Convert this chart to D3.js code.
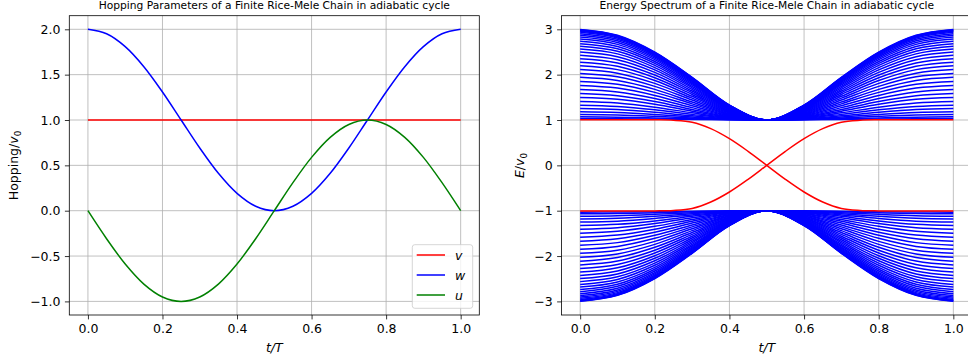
<!DOCTYPE html>
<html><head><meta charset="utf-8">
<script src="https://cdn.jsdelivr.net/npm/d3@7"></script>
<style>
body{margin:0;background:#fff}
svg{display:block}
text{font-family:"DejaVu Sans",sans-serif;fill:#000}
</style>
</head><body>
<svg id="c" width="968" height="362"></svg>
<script>
// ---------------- DATA ----------------
const tFine = [0,0.05,0.1,0.15,0.2,0.25,0.3,0.35,0.4,0.45,0.5,0.55,0.6,0.65,0.7,0.75,0.8,0.85,0.9,0.95,1];
const vValues = [1,1,1,1,1,1,1,1,1,1,1,1,1,1,1,1,1,1,1,1,1];
const wValues = [2,1.951,1.809,1.588,1.309,1,0.691,0.412,0.191,0.049,0,0.049,0.191,0.412,0.691,1,1.309,1.588,1.809,1.951,2];
const uValues = [0,-0.309,-0.588,-0.809,-0.951,-1,-0.951,-0.809,-0.588,-0.309,0,0.309,0.588,0.809,0.951,1,0.951,0.809,0.588,0.309,0];
const hopNames = ["v","w","u"];
const hopColors = ["#ff0000","#0000ff","#008000"];

const tCoarse = [0,0.1,0.2,0.3,0.4,0.5,0.6,0.7,0.8,0.9,1];
const upperBands = [
[2.997,2.867,2.495,1.939,1.328,1,1.328,1.939,2.495,2.867,2.997],
[2.989,2.860,2.489,1.934,1.326,1,1.326,1.934,2.489,2.860,2.989],
[2.976,2.847,2.478,1.927,1.323,1,1.323,1.927,2.478,2.847,2.976],
[2.957,2.829,2.464,1.917,1.319,1,1.319,1.917,2.464,2.829,2.957],
[2.933,2.807,2.445,1.904,1.314,1,1.314,1.904,2.445,2.807,2.933],
[2.904,2.779,2.422,1.889,1.308,1,1.308,1.889,2.422,2.779,2.904],
[2.870,2.747,2.395,1.871,1.300,1,1.300,1.871,2.395,2.747,2.870],
[2.831,2.710,2.364,1.850,1.292,1,1.292,1.850,2.364,2.710,2.831],
[2.786,2.668,2.330,1.827,1.283,1,1.283,1.827,2.330,2.668,2.786],
[2.738,2.622,2.291,1.801,1.273,1,1.273,1.801,2.291,2.622,2.738],
[2.684,2.571,2.250,1.773,1.262,1,1.262,1.773,2.250,2.571,2.684],
[2.626,2.516,2.204,1.743,1.250,1,1.250,1.743,2.204,2.516,2.626],
[2.564,2.458,2.156,1.710,1.238,1,1.238,1.710,2.156,2.458,2.564],
[2.497,2.395,2.104,1.676,1.225,1,1.225,1.676,2.104,2.395,2.497],
[2.427,2.329,2.050,1.640,1.211,1,1.211,1.640,2.050,2.329,2.427],
[2.353,2.259,1.992,1.602,1.197,1,1.197,1.602,1.992,2.259,2.353],
[2.276,2.186,1.933,1.563,1.183,1,1.183,1.563,1.933,2.186,2.276],
[2.196,2.111,1.871,1.523,1.168,1,1.168,1.523,1.871,2.111,2.196],
[2.113,2.033,1.807,1.482,1.154,1,1.154,1.482,1.807,2.033,2.113],
[2.027,1.953,1.742,1.440,1.139,1,1.139,1.440,1.742,1.953,2.027],
[1.940,1.871,1.676,1.398,1.124,1,1.124,1.398,1.676,1.871,1.940],
[1.851,1.788,1.609,1.356,1.110,1,1.110,1.356,1.609,1.788,1.851],
[1.762,1.704,1.542,1.314,1.096,1,1.096,1.314,1.542,1.704,1.762],
[1.672,1.620,1.475,1.273,1.082,1,1.082,1.273,1.475,1.620,1.672],
[1.583,1.537,1.409,1.233,1.069,1,1.069,1.233,1.409,1.537,1.583],
[1.495,1.455,1.345,1.195,1.057,1,1.057,1.195,1.345,1.455,1.495],
[1.410,1.376,1.283,1.158,1.046,1,1.046,1.158,1.283,1.376,1.410],
[1.328,1.300,1.225,1.124,1.036,1,1.036,1.124,1.225,1.300,1.328],
[1.251,1.230,1.171,1.093,1.027,1,1.027,1.093,1.171,1.230,1.251],
[1.182,1.165,1.122,1.066,1.019,1,1.019,1.066,1.122,1.165,1.182],
[1.120,1.109,1.080,1.043,1.012,1,1.012,1.043,1.080,1.109,1.120],
[1.070,1.063,1.046,1.025,1.007,1,1.007,1.025,1.046,1.063,1.070],
[1.032,1.029,1.021,1.011,1.003,1,1.003,1.011,1.021,1.029,1.032]
];
const lowerBands = [
[-2.997,-2.867,-2.495,-1.939,-1.328,-1,-1.328,-1.939,-2.495,-2.867,-2.997],
[-2.989,-2.860,-2.489,-1.934,-1.326,-1,-1.326,-1.934,-2.489,-2.860,-2.989],
[-2.976,-2.847,-2.478,-1.927,-1.323,-1,-1.323,-1.927,-2.478,-2.847,-2.976],
[-2.957,-2.829,-2.464,-1.917,-1.319,-1,-1.319,-1.917,-2.464,-2.829,-2.957],
[-2.933,-2.807,-2.445,-1.904,-1.314,-1,-1.314,-1.904,-2.445,-2.807,-2.933],
[-2.904,-2.779,-2.422,-1.889,-1.308,-1,-1.308,-1.889,-2.422,-2.779,-2.904],
[-2.870,-2.747,-2.395,-1.871,-1.300,-1,-1.300,-1.871,-2.395,-2.747,-2.870],
[-2.831,-2.710,-2.364,-1.850,-1.292,-1,-1.292,-1.850,-2.364,-2.710,-2.831],
[-2.786,-2.668,-2.330,-1.827,-1.283,-1,-1.283,-1.827,-2.330,-2.668,-2.786],
[-2.738,-2.622,-2.291,-1.801,-1.273,-1,-1.273,-1.801,-2.291,-2.622,-2.738],
[-2.684,-2.571,-2.250,-1.773,-1.262,-1,-1.262,-1.773,-2.250,-2.571,-2.684],
[-2.626,-2.516,-2.204,-1.743,-1.250,-1,-1.250,-1.743,-2.204,-2.516,-2.626],
[-2.564,-2.458,-2.156,-1.710,-1.238,-1,-1.238,-1.710,-2.156,-2.458,-2.564],
[-2.497,-2.395,-2.104,-1.676,-1.225,-1,-1.225,-1.676,-2.104,-2.395,-2.497],
[-2.427,-2.329,-2.050,-1.640,-1.211,-1,-1.211,-1.640,-2.050,-2.329,-2.427],
[-2.353,-2.259,-1.992,-1.602,-1.197,-1,-1.197,-1.602,-1.992,-2.259,-2.353],
[-2.276,-2.186,-1.933,-1.563,-1.183,-1,-1.183,-1.563,-1.933,-2.186,-2.276],
[-2.196,-2.111,-1.871,-1.523,-1.168,-1,-1.168,-1.523,-1.871,-2.111,-2.196],
[-2.113,-2.033,-1.807,-1.482,-1.154,-1,-1.154,-1.482,-1.807,-2.033,-2.113],
[-2.027,-1.953,-1.742,-1.440,-1.139,-1,-1.139,-1.440,-1.742,-1.953,-2.027],
[-1.940,-1.871,-1.676,-1.398,-1.124,-1,-1.124,-1.398,-1.676,-1.871,-1.940],
[-1.851,-1.788,-1.609,-1.356,-1.110,-1,-1.110,-1.356,-1.609,-1.788,-1.851],
[-1.762,-1.704,-1.542,-1.314,-1.096,-1,-1.096,-1.314,-1.542,-1.704,-1.762],
[-1.672,-1.620,-1.475,-1.273,-1.082,-1,-1.082,-1.273,-1.475,-1.620,-1.672],
[-1.583,-1.537,-1.409,-1.233,-1.069,-1,-1.069,-1.233,-1.409,-1.537,-1.583],
[-1.495,-1.455,-1.345,-1.195,-1.057,-1,-1.057,-1.195,-1.345,-1.455,-1.495],
[-1.410,-1.376,-1.283,-1.158,-1.046,-1,-1.046,-1.158,-1.283,-1.376,-1.410],
[-1.328,-1.300,-1.225,-1.124,-1.036,-1,-1.036,-1.124,-1.225,-1.300,-1.328],
[-1.251,-1.230,-1.171,-1.093,-1.027,-1,-1.027,-1.093,-1.171,-1.230,-1.251],
[-1.182,-1.165,-1.122,-1.066,-1.019,-1,-1.019,-1.066,-1.122,-1.165,-1.182],
[-1.120,-1.109,-1.080,-1.043,-1.012,-1,-1.012,-1.043,-1.080,-1.109,-1.120],
[-1.070,-1.063,-1.046,-1.025,-1.007,-1,-1.007,-1.025,-1.046,-1.063,-1.070],
[-1.032,-1.029,-1.021,-1.011,-1.003,-1,-1.003,-1.011,-1.021,-1.029,-1.032]
];
const edgeUp   = [1.008,1.008,1.007,1.006,1.004,0.995,0.951,0.809,0.588,0.309,0,-0.309,-0.588,-0.809,-0.951,-0.995,-1.004,-1.006,-1.007,-1.008,-1.008];
const edgeDown = [-1.008,-1.008,-1.007,-1.006,-1.004,-0.995,-0.951,-0.809,-0.588,-0.309,0,0.309,0.588,0.809,0.951,0.995,1.004,1.006,1.007,1.008,1.008];

const xTicks = [0,0.2,0.4,0.6,0.8,1];
const xTickLabels = ["0.0","0.2","0.4","0.6","0.8","1.0"];
const hopYTicks = [-1,-0.5,0,0.5,1,1.5,2];
const hopYTickLabels = ["\u22121.0","\u22120.5","0.0","0.5","1.0","1.5","2.0"];
const enYTicks = [-3,-2,-1,0,1,2,3];
const enYTickLabels = ["\u22123","\u22122","\u22121","0","1","2","3"];

// ---------------- DRAW ----------------
const svg = d3.select('#c');
const FS = 12.5;
const TICK = 4.4, PAD = 4.4;

function makePanel(cfg){
  const x = d3.scaleLinear().domain([-0.05,1.05]).range([cfg.x0,cfg.x1]);
  const y = d3.scaleLinear().domain(cfg.yDomain).range([cfg.y1,cfg.y0]);
  const g = svg.append('g');
  g.append('g').selectAll('line').data(xTicks).join('line')
    .attr('x1',d=>x(d)).attr('x2',d=>x(d)).attr('y1',cfg.y0).attr('y2',cfg.y1)
    .attr('stroke','#b0b0b0').attr('stroke-width',0.8);
  g.append('g').selectAll('line').data(cfg.yTicks).join('line')
    .attr('x1',cfg.x0).attr('x2',cfg.x1).attr('y1',d=>y(d)).attr('y2',d=>y(d))
    .attr('stroke','#b0b0b0').attr('stroke-width',0.8);
  const ax = g.append('g').attr('transform',`translate(0,${cfg.y1})`)
    .call(d3.axisBottom(x).tickValues(xTicks).tickFormat((d,i)=>xTickLabels[i]).tickSize(TICK).tickPadding(PAD).tickSizeOuter(0));
  const ay = g.append('g').attr('transform',`translate(${cfg.x0},0)`)
    .call(d3.axisLeft(y).tickValues(cfg.yTicks).tickFormat((d,i)=>cfg.yLabels[i]).tickSize(TICK).tickPadding(PAD).tickSizeOuter(0));
  [ax,ay].forEach(a=>{
    a.select('.domain').remove();
    a.selectAll('line').attr('stroke','#000').attr('stroke-width',0.8);
    a.selectAll('text').attr('font-size',FS).attr('font-family','DejaVu Sans').attr('fill','#000');
  });
  g.append('text').attr('x',(cfg.x0+cfg.x1)/2).attr('y',9).attr('text-anchor','middle')
    .attr('font-size',10.7).text(cfg.title);
  g.append('text').attr('x',(cfg.x0+cfg.x1)/2).attr('y',352).attr('text-anchor','middle')
    .attr('font-size',FS).attr('font-style','italic').text('t/T');
  return {x,y,g};
}

const L = makePanel({x0:69.3,x1:479.3,y0:15.7,y1:315,yDomain:[-1.15,2.15],
  yTicks:hopYTicks,yLabels:hopYTickLabels,
  title:'Hopping Parameters of a Finite Rice-Mele Chain in adiabatic cycle'});
const R = makePanel({x0:561.5,x1:972,y0:15.7,y1:315,yDomain:[-3.3,3.3],
  yTicks:enYTicks,yLabels:enYTickLabels,
  title:'Energy Spectrum of a Finite Rice-Mele Chain in adiabatic cycle'});

const hopSeries = [vValues,wValues,uValues];
const lineL = d3.line().x((d,i)=>L.x(tFine[i])).y(d=>L.y(d)).curve(d3.curveCatmullRom);
L.g.append('g').selectAll('path').data(hopSeries).join('path')
  .attr('d',lineL).attr('fill','none').attr('stroke',(d,i)=>hopColors[i]).attr('stroke-width',1.5);

const lineR = d3.line().x((d,i)=>R.x(tCoarse[i])).y(d=>R.y(d)).curve(d3.curveCatmullRom);
R.g.append('g').selectAll('path').data(upperBands.concat(lowerBands)).join('path')
  .attr('d',lineR).attr('fill','none').attr('stroke','#0000ff').attr('stroke-width',1.5);
const lineE = d3.line().x((d,i)=>R.x(tFine[i])).y(d=>R.y(d)).curve(d3.curveCatmullRom);
R.g.append('g').selectAll('path').data([edgeUp,edgeDown]).join('path')
  .attr('d',lineE).attr('fill','none').attr('stroke','#ff0000').attr('stroke-width',1.5);

[[69.3,479.3],[561.5,972]].forEach(([a,b])=>{
  svg.append('rect').attr('x',a).attr('y',15.7).attr('width',b-a).attr('height',315-15.7)
    .attr('fill','none').attr('stroke','#000').attr('stroke-width',0.8);
});

const yl1 = svg.append('text').attr('transform','translate(18,165.5) rotate(-90)').attr('text-anchor','middle').attr('font-size',FS);
yl1.append('tspan').text('Hopping/');
yl1.append('tspan').attr('font-style','italic').text('v');
yl1.append('tspan').attr('font-size',FS*0.7).attr('dy',2.5).text('0');
const yl2 = svg.append('text').attr('transform','translate(524,165.5) rotate(-90)').attr('text-anchor','middle').attr('font-size',FS);
yl2.append('tspan').attr('font-style','italic').text('E');
yl2.append('tspan').text('/');
yl2.append('tspan').attr('font-style','italic').text('v');
yl2.append('tspan').attr('font-size',FS*0.7).attr('dy',2.5).text('0');

const lg = svg.append('g');
lg.append('rect').attr('x',412.3).attr('y',244.7).attr('width',60.4).attr('height',63.6).attr('rx',2.5)
  .attr('fill','#fff').attr('fill-opacity',0.8).attr('stroke','#cccccc').attr('stroke-width',0.8);
hopNames.forEach((n,i)=>{
  const yy = 255 + i*20;
  lg.append('line').attr('x1',416.7).attr('x2',445).attr('y1',yy).attr('y2',yy)
    .attr('stroke',hopColors[i]).attr('stroke-width',1.5);
  lg.append('text').attr('x',455).attr('y',yy+4.5).attr('font-size',FS).attr('font-style','italic').text(n);
});
</script>
</body></html>
